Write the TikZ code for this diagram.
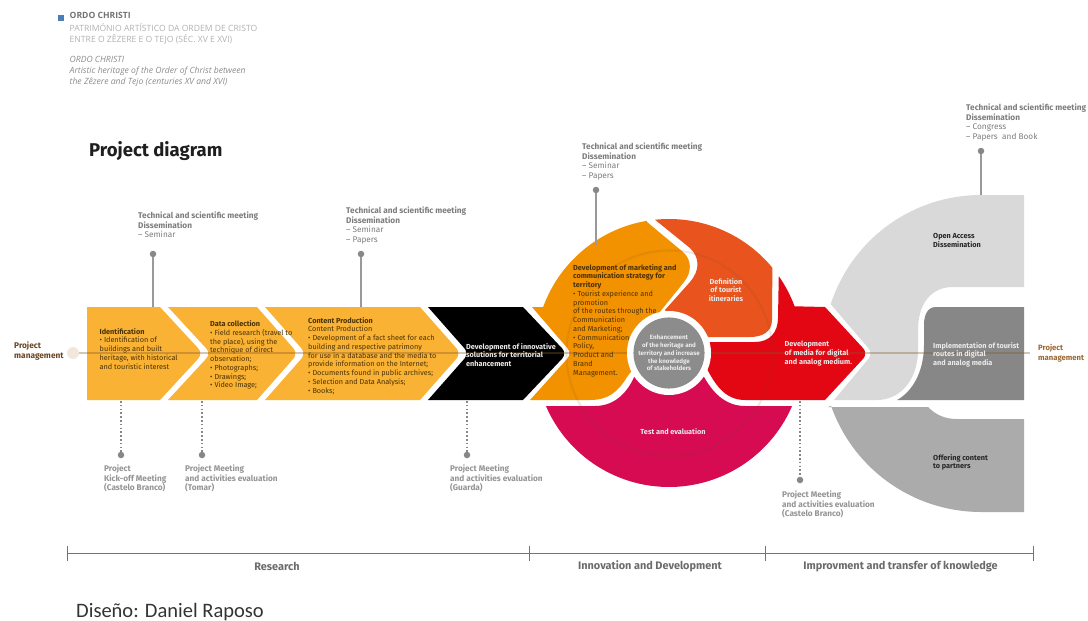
\documentclass[tikz,border=0pt]{standalone}
\usepackage{fontspec}
\setmainfont{Fira Sans}
\newfontfamily\openf{Open Sans}
\newfontfamily\carl{Carlito}
\definecolor{cyel}{HTML}{F9B233}
\definecolor{corg}{HTML}{F39200}
\definecolor{cred}{HTML}{E9531D}
\definecolor{crd}{HTML}{E30613}
\definecolor{cpnk}{HTML}{D60B52}
\definecolor{clg}{HTML}{D9D9D9}
\definecolor{cdg}{HTML}{878787}
\definecolor{cmg}{HTML}{ABABAB}
\definecolor{ctxt}{HTML}{7D7D7D}
\definecolor{cbox}{HTML}{4A3208}
\definecolor{cblue}{HTML}{4A7EBB}
\tikzset{
  lab/.style={inner sep=0pt,anchor=north west,align=left,text=ctxt,font=\fontsize{8.25}{9.8}\selectfont},
  labl/.style={lab,text=black!42},
  boxt/.style={inner sep=0pt,anchor=north west,align=left,text=cbox,font=\fontsize{7.3}{8.75}\selectfont},
  whitec/.style={inner sep=0pt,align=center,text=white!92!black,font=\fontsize{7.3}{8.75}\selectfont\bfseries},
  blackb/.style={inner sep=0pt,anchor=north west,align=left,text=black!85,font=\fontsize{7.3}{8.75}\selectfont\bfseries},
  whiteb/.style={inner sep=0pt,anchor=north west,align=left,text=white!92!black,font=\fontsize{7.3}{8.75}\selectfont\bfseries},
  dotn/.style={circle,fill=cdg,inner sep=0pt,minimum size=6.5pt},
  solidc/.style={draw=cdg!85,line width=1.4pt},
  dotc/.style={draw=cdg,line width=1.1pt,dash pattern=on 1.6pt off 2.2pt},
  tickl/.style={draw=black!55,line width=.9pt},
  bandt/.style={inner sep=0pt,text=black!58,font=\fontsize{10.9}{12}\selectfont\bfseries},
  hdr/.style={inner sep=0pt,anchor=north west,align=left,font=\openf\fontsize{8.6}{11}\selectfont},
}
\begin{document}
\begin{tikzpicture}[x=1pt,y=-1pt]
\useasboundingbox[fill=white] (0,0) rectangle (1088,621);

% header
\fill[cblue] (58,15) rectangle (64,21);
\node[hdr,text=black!55] (h1) at (69.5,12.5) {\bfseries ORDO CHRISTI};
\node[hdr,text=black!30] (h2) at (69.5,23.5) {PATRIMÓNIO ARTÍSTICO DA ORDEM DE CRISTO\\ENTRE O ZÊZERE E O TEJO (SÉC. XV E XVI)};
\node[hdr,text=black!45] (h3) at (69.5,56.5) {\itshape ORDO CHRISTI\\\itshape Artistic heritage of the Order of Christ between\\\itshape the Zêzere and Tejo (centuries XV and XVI)};
\node[inner sep=0pt,anchor=west,text=black!88,font=\fontsize{18.5}{20}\selectfont\bfseries] (title) at (89,151) {Project diagram};

% chevrons
\path[fill=cyel] (87,307) -- (160,307) [rounded corners=7pt] -- (203,353.5) [sharp corners] -- (160,400) -- (87,400) -- cycle;
\path[fill=cyel] (168,307) -- (257,307) [rounded corners=7pt] -- (298,353.5) [sharp corners] -- (257,400) -- (168,400) [rounded corners=7pt] -- (211,353.5) [sharp corners] -- cycle;
\path[fill=cyel] (265,307) -- (420,307) [rounded corners=7pt] -- (461,353.5) [sharp corners] -- (420,400) -- (265,400) [rounded corners=7pt] -- (306,353.5) [sharp corners] -- cycle;
\path[fill=black] (428,307) -- (523,307) [rounded corners=7pt] -- (567,353.5) [sharp corners] -- (523,400) -- (428,400) [rounded corners=7pt] -- (469,353.5) [sharp corners] -- cycle;

% circle sectors
\fill[cpnk] plot[domain=23.3:156.7,samples=60] ({669+134*cos(\x)},{353+134*sin(\x)}) -- (595,406) .. controls (615,406) and (628,392) .. (635,375) -- (703,375) .. controls (712,392) and (725,406) .. (745,406) -- cycle;
\fill[corg] (530,400) -- (590,400) .. controls (608,400) and (618,392) .. (627,377) -- (640,360) -- (655,318) -- (684,282) .. controls (692,272) and (692,260) .. (683,252) -- (647,222) -- plot[domain=260.5:200,samples=40] ({669+134*cos(\x)},{353+134*sin(\x)}) -- (532,307) [rounded corners=7pt] -- (572,353.5) [sharp corners] -- cycle;
\fill[cred] plot[domain=264:320.5,samples=40] ({669+134*cos(\x)},{353+134*sin(\x)}) -- (772,320) .. controls (772,332) and (762,337) .. (750,337) -- (690,337) -- (665,310) -- (690,282) .. controls (700,270) and (700,258) .. (690,248) -- cycle;
\fill[crd] plot[domain=325:339.6,samples=12] ({669+134*cos(\x)},{353+134*sin(\x)}) -- (825,307) [rounded corners=7pt] -- (868,353.5) [sharp corners] -- (825,400) -- (745,400) .. controls (725,400) and (715,385) .. (705,365) -- (700,342) -- (755,342) .. controls (770,342) and (778,332) .. (778,318) -- cycle;

% right greys
\fill[clg] plot[domain=198:270,samples=50] ({981+158*cos(\x)},{353+158*sin(\x)}) -- (1024,195) -- (1024,287) -- (953,287) .. controls (930,287) and (918,305) .. (918,330) -- (918,350) .. controls (918,380) and (900,400) .. (877,400) -- (834,400) [rounded corners=7pt] -- (873,353.5) [sharp corners] -- cycle;
\fill[cdg] (1024,307) -- (936,307) .. controls (928,307) and (924,314) .. (924,325) -- (924,345) .. controls (924,372) and (912,392) .. (897,400) -- (1024,400) -- cycle;
\fill[cmg] (828,407) -- (928,407) .. controls (936,415) and (945,419) .. (957,419) -- (1024,419) -- (1024,512) -- (981,512) -- plot[domain=90:160.6,samples=50] ({981+159*cos(\x)},{353+159*sin(\x)}) -- cycle;

% project management line, faint ring
\node[circle,fill=black!5!brown!18,inner sep=0pt,minimum size=12pt] (pmstart) at (73,353) {};
\coordinate (pmend) at (1030,353);
\draw[draw=brown!70!black,opacity=.35,line width=2pt] (pmstart) -- (pmend);
\node[circle,draw=brown!60!black,opacity=.12,line width=2.2pt,minimum size=206pt,inner sep=0pt] (ring) at (669.5,353.5) {};

% centre circle
\node[circle,fill=white,inner sep=0pt,minimum size=84pt] (cw) at (669,353) {};
\node[circle,fill=black!45,inner sep=0pt,minimum size=70pt,align=center,text=white!92!black,font=\fontsize{6.2}{7.75}\selectfont\bfseries] (core) at (669,353) {Enhancement\\of the heritage and\\territory and increase\\the knowledge\\of stakeholders};

% anchor points on shapes
\coordinate (a1) at (153,307); \coordinate (a2) at (361,307);
\coordinate (a3) at (596,245); \coordinate (a4) at (981,195);
\coordinate (b1) at (121,401); \coordinate (b2) at (202,401);
\coordinate (b3) at (467,401); \coordinate (b4) at (800,401);

% meeting dots and connectors
\node[dotn] (d1) at (153,254) {}; \node[dotn] (d2) at (361,254) {};
\node[dotn] (d3) at (596,190) {}; \node[dotn] (d4) at (981,151) {};
\node[dotn] (e1) at (121,455) {}; \node[dotn] (e2) at (202,455) {};
\node[dotn] (e3) at (467,455) {}; \node[dotn] (e4) at (800,480) {};
\draw[solidc] (d1) -- (a1); \draw[solidc] (d2) -- (a2);
\draw[solidc] (d3) -- (a3); \draw[solidc] (d4) -- (a4);
\draw[dotc] (b1) -- (e1); \draw[dotc] (b2) -- (e2);
\draw[dotc] (b3) -- (e3); \draw[dotc] (b4) -- (e4);

% labels above
\node[lab] (t1) at (138,211.5) {\textbf{Technical and scientific meeting}\\\textbf{Dissemination}\\– Seminar};
\node[lab] (t2) at (346,206.5) {\textbf{Technical and scientific meeting}\\\textbf{Dissemination}\\– Seminar\\– Papers};
\node[lab] (t3) at (582,142.5) {\textbf{Technical and scientific meeting}\\\textbf{Dissemination}\\– Seminar\\– Papers};
\node[lab] (t4) at (966,103.5) {\textbf{Technical and scientific meeting}\\\textbf{Dissemination}\\– Congress\\– Papers\ \ and Book};
% labels below
\node[labl] (u1) at (104,464.5) {\textbf{Project}\\\textbf{Kick-off Meeting}\\\textbf{(Castelo Branco)}};
\node[labl] (u2) at (185,464.5) {\textbf{Project Meeting}\\\textbf{and activities evaluation}\\\textbf{(Tomar)}};
\node[labl] (u3) at (450,464.5) {\textbf{Project Meeting}\\\textbf{and activities evaluation}\\\textbf{(Guarda)}};
\node[labl] (u4) at (782,490.5) {\textbf{Project Meeting}\\\textbf{and activities evaluation}\\\textbf{(Castelo Branco)}};
% project management
\node[lab,text=black!45!brown,font=\fontsize{8.3}{9.8}\selectfont\bfseries] (pm1) at (14,341.5) {Project\\management};
\node[lab,text=brown!80!black,font=\fontsize{7.7}{9.5}\selectfont\bfseries] (pm2) at (1038,344.5) {Project\\management};

% box texts
\node[boxt] (x1) at (99.5,328) {\textbf{Identification}\\• Identification of\\buildings and built\\heritage, with historical\\and touristic interest};
\node[boxt] (x2) at (210,320.5) {\textbf{Data collection}\\• Field research (travel to\\the place), using the\\technique of direct\\observation;\\• Photographs;\\• Drawings;\\• Video Image;};
\node[boxt] (x3) at (308,317) {\textbf{Content Production}\\Content Production\\• Development of a fact sheet for each\\building and respective patrimony\\for use in a database and the media to\\provide information on the Internet;\\• Documents found in public archives;\\• Selection and Data Analysis;\\• Books;};
\node[whiteb] (x4) at (466,343) {Development of innovative\\ solutions for territorial\\enhancement};
\node[boxt] (x5) at (573,264) {\textbf{Development of marketing and}\\\textbf{communication strategy for}\\\textbf{territory}\\• Tourist experience and\\promotion\\of the routes through the\\Communication\\and Marketing;\\• Communication\\Policy,\\Product and\\Brand\\Management.};
\node[whitec] (x6) at (726,290) {Definition\\of tourist\\itineraries};
\node[whiteb] (x7) at (784.5,341) {Development\\of media for digital\\and analog medium.};
\node[whitec] (x8) at (673,432) {Test and evaluation};
\node[blackb] (x9) at (933,233) {Open Access\\Dissemination};
\node[whiteb] (x10) at (933,342) {Implementation of tourist\\routes in digital\\and analog media};
\node[blackb] (x11) at (933,454) {Offering content\\to partners};

% time bar
\coordinate (tl) at (67,553); \coordinate (tr) at (1033,553);
\coordinate (m1) at (529,553); \coordinate (m2) at (765,553);
\draw[tickl] (tl) -- (tr);
\draw[tickl] ([yshift=-7.5pt]tl) -- ([yshift=7.5pt]tl);
\draw[tickl] ([yshift=-7.5pt]tr) -- ([yshift=7.5pt]tr);
\draw[tickl] ([yshift=-7.5pt]m1) -- ([yshift=7.5pt]m1);
\draw[tickl] ([yshift=-7.5pt]m2) -- ([yshift=7.5pt]m2);
\node[bandt] (r1) at (277,566.5) {Research};
\node[bandt] (r2) at (650,566.5) {Innovation and Development};
\node[bandt] (r3) at (900.5,566.5) {Improvment and transfer of knowledge};
\node[inner sep=0pt,anchor=west,text=black!80,font=\carl\fontsize{20.5}{22}\selectfont] (credit) at (76,612) {Diseño: Daniel Raposo};
\end{tikzpicture}
\end{document}
